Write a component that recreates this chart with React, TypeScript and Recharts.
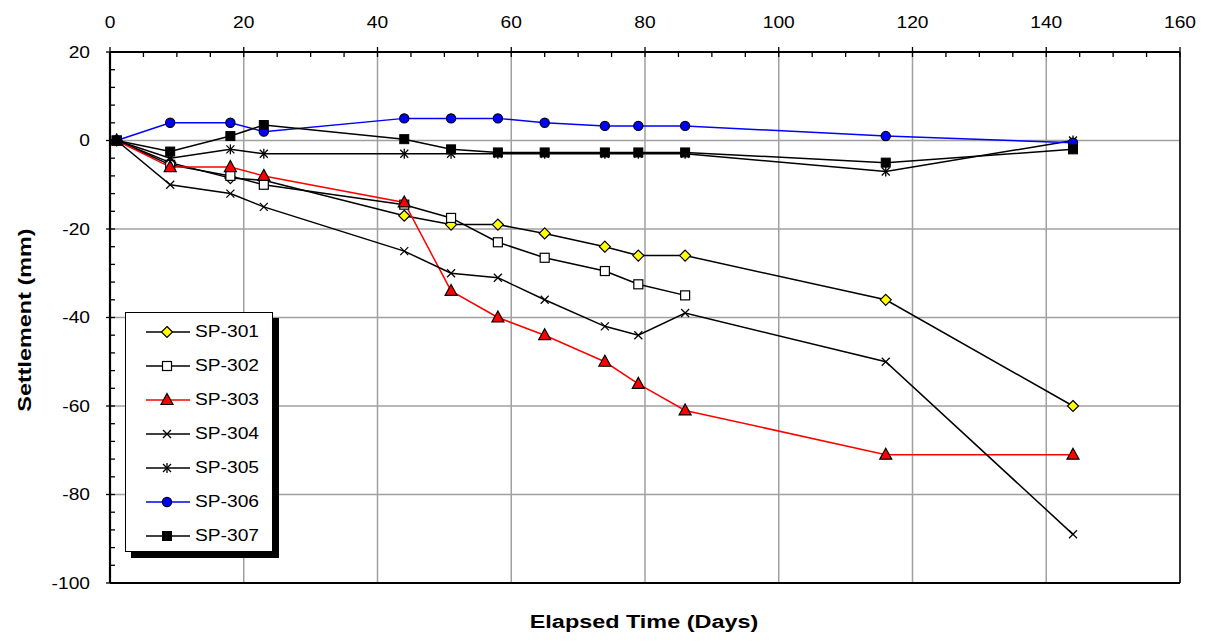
import React from 'react';
import { LineChart, Line, XAxis, YAxis, CartesianGrid, ReferenceLine, Legend } from 'recharts';

const days = [1, 9, 18, 23, 44, 51, 58, 65, 74, 79, 86, 116, 144];
const sp301 = [0, -5, -8.5, -9, -17, -19, -19, -21, -24, -26, -26, -36, -60];
const sp302 = [0, -5.5, -8, -10, -14.5, -17.5, -23, -26.5, -29.5, -32.5, -35, null, null];
const sp303 = [0, -6, -6, -8, -14, -34, -40, -44, -50, -55, -61, -71, -71];
const sp304 = [0, -10, -12, -15, -25, -30, -31, -36, -42, -44, -39, -50, -89];
const sp305 = [0, -4, -2, -3, -3, -3, -3, -3, -3, -3, -3, -7, 0];
const sp306 = [0, 4, 4, 2, 5, 5, 5, 4, 3.3, 3.3, 3.3, 1, -0.5];
const sp307 = [0, -2.5, 1, 3.5, 0.3, -2, -2.7, -2.7, -2.7, -2.7, -2.7, -5, -2];

const xMajorTicks = [0, 20, 40, 60, 80, 100, 120, 140, 160];
const xMinorTicks = [0, 5, 10, 15, 20, 25, 30, 35, 40, 45, 50, 55, 60, 65, 70, 75, 80, 85, 90, 95, 100, 105, 110, 115, 120, 125, 130, 135, 140, 145, 150, 155, 160];
const yMajorTicks = [-100, -80, -60, -40, -20, 0, 20];
const yMinorTicks = [-100, -96, -92, -88, -84, -80, -76, -72, -68, -64, -60, -56, -52, -48, -44, -40, -36, -32, -28, -24, -20, -16, -12, -8, -4, 0, 4, 8, 12, 16, 20];

const seriesNames = ['SP-301', 'SP-302', 'SP-303', 'SP-304', 'SP-305', 'SP-306', 'SP-307'];
const seriesKeys = ['sp301', 'sp302', 'sp303', 'sp304', 'sp305', 'sp306', 'sp307'];
const seriesColors = ['#000000', '#000000', '#FF0000', '#000000', '#000000', '#0000FF', '#000000'];
const seriesMarkers = ['diamond', 'squareWhite', 'triangle', 'cross', 'star', 'circle', 'squareBlack'];
const seriesValues = [sp301, sp302, sp303, sp304, sp305, sp306, sp307];

const data = days.map((d, i) => {
  const row: any = { day: d };
  seriesKeys.forEach((k, j) => {
    row[k] = seriesValues[j][i];
  });
  return row;
});

const FONT = '"Liberation Sans", Arial, sans-serif';

function renderMarker(type: string, cx: number, cy: number, key?: any) {
  switch (type) {
    case 'diamond':
      return (
        <polygon key={key} points={`${cx},${cy - 5.5} ${cx + 5.5},${cy} ${cx},${cy + 5.5} ${cx - 5.5},${cy}`} fill="#FFFF00" stroke="#000" strokeWidth={1.2} />
      );
    case 'squareWhite':
      return <rect key={key} x={cx - 4.5} y={cy - 4.5} width={9} height={9} fill="#FFFFFF" stroke="#000" strokeWidth={1.2} />;
    case 'triangle':
      return (
        <polygon key={key} points={`${cx},${cy - 6.5} ${cx + 6},${cy + 4.5} ${cx - 6},${cy + 4.5}`} fill="#FF0000" stroke="#000" strokeWidth={1.2} />
      );
    case 'cross':
      return (
        <g key={key} stroke="#000" strokeWidth={1.3}>
          <line x1={cx - 4} y1={cy - 4} x2={cx + 4} y2={cy + 4} />
          <line x1={cx - 4} y1={cy + 4} x2={cx + 4} y2={cy - 4} />
        </g>
      );
    case 'star':
      return (
        <g key={key} stroke="#000" strokeWidth={1.3}>
          <line x1={cx - 4} y1={cy - 4} x2={cx + 4} y2={cy + 4} />
          <line x1={cx - 4} y1={cy + 4} x2={cx + 4} y2={cy - 4} />
          <line x1={cx} y1={cy - 5} x2={cx} y2={cy + 5} />
        </g>
      );
    case 'circle':
      return <circle key={key} cx={cx} cy={cy} r={4.6} fill="#0000FF" stroke="#000" strokeWidth={1.2} />;
    case 'squareBlack':
    default:
      return <rect key={key} x={cx - 4.5} y={cy - 4.5} width={9} height={9} fill="#000" stroke="#000" strokeWidth={1} />;
  }
}

const makeDot = (type: string) => (props: any) => {
  const { cx, cy, index } = props;
  if (cx == null || cy == null || props.value == null) return <g key={`e-${index}`} />;
  return renderMarker(type, cx, cy, `d-${index}`);
};

const XTick = (props: any) => {
  const { x, y, payload } = props;
  return (
    <text transform={`translate(${x},${y - 24}) scale(1.2,1)`} textAnchor="middle" fontFamily={FONT} fontSize={16} fill="#000">
      {payload.value}
    </text>
  );
};

const YTick = (props: any) => {
  const { x, y, payload } = props;
  return (
    <text transform={`translate(${x - 20},${y}) scale(1.2,1)`} textAnchor="end" dy="0.35em" fontFamily={FONT} fontSize={16} fill="#000">
      {payload.value}
    </text>
  );
};

// tick marks drawn on the axes via ReferenceLine shapes (positions come from the scales)
const xTickShape = (major: boolean) => (p: any) => {
  const x = p.x1;
  const top = Math.min(p.y1, p.y2);
  return <line x1={x} y1={major ? top - 5 : top} x2={x} y2={top + 5} stroke="#000" strokeWidth={1.3} />;
};

const yTickShape = (major: boolean) => (p: any) => {
  const y = p.y1;
  const left = Math.min(p.x1, p.x2);
  return <line x1={major ? left - 4 : left} y1={y} x2={left + 5} y2={y} stroke="#000" strokeWidth={1.3} />;
};

const LegendBox = () => (
  <div
    style={{
      width: 146,
      height: 236,
      border: '1px solid #000',
      background: '#fff',
      boxShadow: '6px 6px 0 #000',
      paddingTop: 2,
      boxSizing: 'content-box',
    }}
  >
    {seriesNames.map((name, i) => (
      <div key={name} style={{ height: 34, display: 'flex', alignItems: 'center', position: 'relative' }}>
        <svg width={46} height={20} style={{ position: 'absolute', left: 19, top: 7 }}>
          <line x1={1} y1={10} x2={45} y2={10} stroke={seriesColors[i]} strokeWidth={1.5} />
          {renderMarker(seriesMarkers[i], 22, 10)}
        </svg>
        <span
          style={{
            position: 'absolute',
            left: 69,
            top: 7,
            fontFamily: FONT,
            fontSize: 16,
            lineHeight: '20px',
            color: '#000',
            transform: 'scale(1.2,1)',
            transformOrigin: 'left center',
            whiteSpace: 'nowrap',
          }}
        >
          {name}
        </span>
      </div>
    ))}
  </div>
);

export default function App() {
  return (
    <div style={{ position: 'absolute', left: 0, top: 0, width: 1211, height: 642, background: '#fff' }}>
      <LineChart width={1211} height={642} data={data} margin={{ top: 51, right: 31, bottom: 59, left: 109 }}>
        <CartesianGrid stroke="#A0A0A0" strokeWidth={1.5} verticalValues={xMajorTicks} horizontalValues={yMajorTicks} />
        <XAxis
          dataKey="day"
          type="number"
          orientation="top"
          domain={[0, 160]}
          ticks={xMajorTicks}
          height={1}
          tickSize={0}
          tickMargin={0}
          axisLine={{ stroke: '#000', strokeWidth: 2.2 }}
          tickLine={false}
          tick={XTick}
          interval={0}
          allowDataOverflow
        />
        <YAxis
          type="number"
          domain={[-100, 20]}
          ticks={yMajorTicks}
          width={1}
          tickSize={0}
          tickMargin={0}
          axisLine={{ stroke: '#000', strokeWidth: 2.2 }}
          tickLine={false}
          tick={YTick}
          interval={0}
          allowDataOverflow
        />
        <ReferenceLine x={160} stroke="#000" strokeWidth={1.5} />
        <ReferenceLine y={-100} stroke="#000" strokeWidth={1.8} />
        {xMinorTicks.map((v) => (
          <ReferenceLine key={`xt-${v}`} x={v} ifOverflow="visible" shape={xTickShape(xMajorTicks.indexOf(v) >= 0)} />
        ))}
        {yMinorTicks.map((v) => (
          <ReferenceLine key={`yt-${v}`} y={v} ifOverflow="visible" shape={yTickShape(yMajorTicks.indexOf(v) >= 0)} />
        ))}
        {seriesKeys.map((k, i) => (
          <Line
            key={k}
            dataKey={k}
            name={seriesNames[i]}
            type="linear"
            stroke={seriesColors[i]}
            strokeWidth={1.5}
            dot={makeDot(seriesMarkers[i])}
            activeDot={false}
            isAnimationActive={false}
          />
        ))}
        <Legend
          layout="vertical"
          align="center"
          verticalAlign="middle"
          wrapperStyle={{ position: 'absolute', left: 125, top: 312, width: 148 }}
          content={<LegendBox />}
        />
      </LineChart>
      <div
        style={{
          position: 'absolute',
          left: 25,
          top: 320,
          transform: 'translate(-50%,-50%) rotate(-90deg) scale(1.3,1)',
          fontFamily: FONT,
          fontWeight: 'bold',
          fontSize: 18,
          whiteSpace: 'nowrap',
          color: '#000',
        }}
      >
        Settlement (mm)
      </div>
      <div
        style={{
          position: 'absolute',
          left: 644,
          top: 622,
          transform: 'translate(-50%,-50%) scale(1.3,1)',
          fontFamily: FONT,
          fontWeight: 'bold',
          fontSize: 18,
          whiteSpace: 'nowrap',
          color: '#000',
        }}
      >
        Elapsed Time (Days)
      </div>
    </div>
  );
}
